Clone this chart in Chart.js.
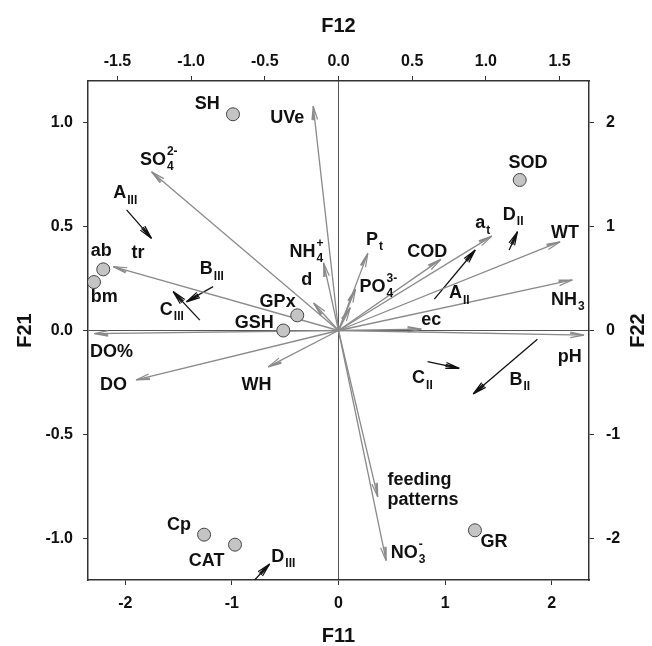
<!DOCTYPE html>
<html>
<head>
<meta charset="utf-8">
<script src="https://cdn.jsdelivr.net/npm/chart.js@4.4.1/dist/chart.umd.min.js"></script>
<style>
  html, body { margin: 0; padding: 0; background: #fff; }
</style>
</head>
<body>
<canvas id="biplot" width="652" height="646"></canvas>
<script>
// tick values of the four axes
const f11Ticks = [-2, -1, 0, 1, 2];
const f21Ticks = [-1.0, -0.5, 0.0, 0.5, 1.0];
const f12Ticks = [-1.5, -1.0, -0.5, 0.0, 0.5, 1.0, 1.5];
const f22Ticks = [-2, -1, 0, 1, 2];

// grey loading arrows, drawn from the origin (F11 / F21 units)
const loadNames = ['UVe', 'SO4', 'ab', 'DO%', 'DO', 'WH', 'NH4', 'd', 'Pt', 'PO4', 'PO4b',
                   'COD', 'at', 'WT', 'NH3', 'ec', 'pH', 'feeding patterns', 'NO3'];
const loadX = [-0.237, -1.754, -2.113, -2.29, -1.90, -0.66, -0.14, -0.234, 0.275, 0.16, 0.11,
               0.961, 1.439, 2.079, 2.194, 0.777, 2.303, 0.368, 0.447];
const loadY = [1.079, 0.763, 0.307, -0.015, -0.238, -0.175, 0.325, 0.132, 0.371, 0.20, 0.11,
               0.342, 0.454, 0.427, 0.243, 0.007, -0.022, -0.80, -1.107];

// black shift arrows, start -> end
const shiftNames = ['AIII', 'BIII', 'CIII', 'AII', 'BII', 'CII', 'DII', 'DIII'];
const shiftX0 = [-1.988, -1.177, -1.301, 0.899, 1.866, 0.836, 1.601, -0.787];
const shiftY0 = [0.580, 0.211, 0.050, 0.151, -0.042, -0.150, 0.387, -1.20];
const shiftX1 = [-1.754, -1.426, -1.551, 1.283, 1.264, 1.133, 1.679, -0.646];
const shiftY1 = [0.443, 0.138, 0.187, 0.387, -0.305, -0.182, 0.475, -1.123];

// grey circles
const pointNames = ['SH', 'SOD', 'ab', 'bm', 'GPx', 'GSH', 'Cp', 'CAT', 'GR'];
const pointX = [-0.99, 1.70, -2.207, -2.294, -0.387, -0.518, -1.261, -0.971, 1.28];
const pointY = [1.04, 0.724, 0.294, 0.233, 0.073, 0.0, -0.982, -1.03, -0.961];

// text labels: base text, subscript, superscript, anchor (left / middle)
const labelText = ['SH', 'UVe', 'SO', 'SOD', 'A', 'tr', 'ab', 'bm', 'B', 'C', 'GPx', 'GSH',
                   'DO%', 'DO', 'WH', 'NH', 'd', 'P', 'PO', 'COD', 'a', 'D', 'WT', 'A', 'NH',
                   'ec', 'pH', 'C', 'B', 'feeding', 'patterns', 'NO', 'GR', 'Cp', 'CAT', 'D'];
const labelSub = ['', '', '4', '', 'III', '', '', '', 'III', 'III', '', '',
                  '', '', '', '4', '', 't', '4', '', 't', 'II', '', 'II', '3',
                  '', '', 'II', 'II', '', '', '3', '', '', '', 'III'];
const labelSup = ['', '', '2-', '', '', '', '', '', '', '', '', '',
                  '', '', '', '+', '', '', '3-', '', '', '', '', '', '',
                  '', '', '', '', '', '', '-', '', '', '', ''];
const labelX = [-1.348, -0.640, -1.863, 1.595, -2.113, -1.941, -2.325, -2.325, -1.301, -1.676, -0.740, -0.974,
                -2.331, -2.238, -0.911, -0.459, -0.349, 0.259, 0.197, 0.646, 1.283, 1.542, 1.994, 1.036, 1.994,
                0.777, 2.057, 0.690, 1.604, 0.459, 0.459, 0.490, 1.332, -1.608, -1.404, -0.630];
const labelY = [1.089, 1.020, 0.820, 0.804, 0.660, 0.371, 0.384, 0.163, 0.294, 0.099, 0.138, 0.037,
                -0.105, -0.262, -0.262, 0.379, 0.243, 0.435, 0.211, 0.379, 0.515, 0.555, 0.467, 0.179, 0.147,
                0.050, -0.126, -0.230, -0.238, -0.719, -0.815, -1.071, -1.015, -0.935, -1.111, -1.090];

const FONT = "'Liberation Sans', Arial, sans-serif";
const GREY = '#8a8a8a';
const BLACK = '#111';

function fixTicks(values) {
    return scale => { scale.ticks = values.map(v => ({ value: v })); };
}

function zeroGrid(ctx) {
    return ctx.tick && ctx.tick.value === 0 ? '#555' : 'rgba(0,0,0,0)';
}

// arrow heads and labels drawn on top of the datasets
const biplotText = {
    id: 'biplotText',
    afterDatasetsDraw(chart) {
        const { ctx, scales: { x, y } } = chart;

        function head(x0, y0, x1, y1, color, spreads) {
            const px0 = x.getPixelForValue(x0), py0 = y.getPixelForValue(y0);
            const px1 = x.getPixelForValue(x1), py1 = y.getPixelForValue(y1);
            const a = Math.atan2(py1 - py0, px1 - px0);
            const len = 14;
            ctx.save();
            ctx.strokeStyle = color;
            ctx.lineWidth = 1.2;
            ctx.beginPath();
            spreads.forEach(s => {
                ctx.moveTo(px1, py1);
                ctx.lineTo(px1 - len * Math.cos(a + s), py1 - len * Math.sin(a + s));
            });
            ctx.stroke();
            ctx.restore();
        }

        loadX.forEach((v, i) => head(0, 0, v, loadY[i], GREY, [0.2, -0.2, 0.1]));
        shiftX0.forEach((v, i) => head(v, shiftY0[i], shiftX1[i], shiftY1[i], BLACK, [0.22, -0.22, 0.08, -0.08]));

        ctx.save();
        ctx.fillStyle = '#111';
        ctx.textBaseline = 'middle';
        ctx.textAlign = 'left';
        labelText.forEach((t, i) => {
            const px = x.getPixelForValue(labelX[i]);
            const py = y.getPixelForValue(labelY[i]);
            ctx.font = 'bold 18px ' + FONT;
            ctx.fillText(t, px, py);
            const w = ctx.measureText(t).width + 1;
            ctx.font = 'bold 12px ' + FONT;
            if (labelSub[i]) ctx.fillText(labelSub[i], px + w, py + 7);
            if (labelSup[i]) ctx.fillText(labelSup[i], px + w, py - 8);
        });
        ctx.restore();
    },
    afterDraw(chart) {
        // right hand title, reads bottom to top like the left one
        const { ctx, chartArea, scales: { y2 } } = chart;
        ctx.save();
        ctx.translate(y2.right - 14, (chartArea.top + chartArea.bottom) / 2);
        ctx.rotate(-Math.PI / 2);
        ctx.font = 'bold 20px ' + FONT;
        ctx.fillStyle = '#111';
        ctx.textAlign = 'center';
        ctx.textBaseline = 'middle';
        ctx.fillText('F22', 0, 0);
        ctx.restore();
    }
};

const arrowSets = loadNames.map((n, i) => ({
    label: n,
    data: [{ x: 0, y: 0 }, { x: loadX[i], y: loadY[i] }],
    showLine: true,
    borderColor: GREY,
    borderWidth: 1.3,
    pointRadius: 0,
    order: 2
}));

const shiftSets = shiftNames.map((n, i) => ({
    label: n,
    data: [{ x: shiftX0[i], y: shiftY0[i] }, { x: shiftX1[i], y: shiftY1[i] }],
    showLine: true,
    borderColor: BLACK,
    borderWidth: 1.3,
    pointRadius: 0,
    order: 2
}));

const pointSet = {
    label: 'variables',
    data: pointX.map((v, i) => ({ x: v, y: pointY[i] })),
    showLine: false,
    pointRadius: 6.5,
    pointBackgroundColor: '#c4c4c4',
    pointBorderColor: '#444',
    pointBorderWidth: 1,
    order: 0
};

const tickFont = { family: FONT, size: 16, weight: 'bold' };
const titleFont = { family: FONT, size: 20, weight: 'bold', lineHeight: 1 };
const border = { display: true, color: '#333', width: 1.5 };

new Chart(document.getElementById('biplot'), {
    type: 'scatter',
    data: { datasets: [pointSet, ...arrowSets, ...shiftSets] },
    options: {
        responsive: false,
        animation: false,
        events: [],
        layout: { padding: 0 },
        plugins: { legend: { display: false }, tooltip: { enabled: false } },
        scales: {
            x: {
                type: 'linear', position: 'bottom', min: -2.35, max: 2.35,
                afterBuildTicks: fixTicks(f11Ticks),
                afterFit: s => { s.height = 66; },
                ticks: { font: tickFont, color: '#111', padding: 9, maxRotation: 0,
                         callback: v => String(v) },
                grid: { color: zeroGrid, tickColor: '#333', tickLength: 5, lineWidth: 1 },
                border: border,
                title: { display: true, text: 'F11', font: titleFont, color: '#111', padding: 0 }
            },
            y: {
                type: 'linear', position: 'left', min: -1.2, max: 1.2,
                afterBuildTicks: fixTicks(f21Ticks),
                afterFit: s => { s.width = 88; },
                ticks: { font: tickFont, color: '#111', padding: 10,
                         callback: v => Number(v).toFixed(1) },
                grid: { color: zeroGrid, tickColor: '#333', tickLength: 5, lineWidth: 1 },
                border: border,
                title: { display: true, text: 'F21', font: titleFont, color: '#111', padding: { top: 15 } }
            },
            x2: {
                type: 'linear', position: 'top', min: -1.7, max: 1.7,
                afterBuildTicks: fixTicks(f12Ticks),
                afterFit: s => { s.height = 81; },
                ticks: { font: tickFont, color: '#111', padding: 5, maxRotation: 0,
                         callback: v => Number(v).toFixed(1) },
                grid: { drawOnChartArea: false, tickColor: '#333', tickLength: 5 },
                border: border,
                title: { display: true, text: 'F12', font: titleFont, color: '#111', padding: { top: 16 } }
            },
            y2: {
                type: 'linear', position: 'right', min: -2.4, max: 2.4,
                afterBuildTicks: fixTicks(f22Ticks),
                afterFit: s => { s.width = 63; },
                ticks: { font: tickFont, color: '#111', padding: 12,
                         callback: v => String(v) },
                grid: { drawOnChartArea: false, tickColor: '#333', tickLength: 5 },
                border: border
            }
        }
    },
    plugins: [biplotText]
});
</script>
</body>
</html>
